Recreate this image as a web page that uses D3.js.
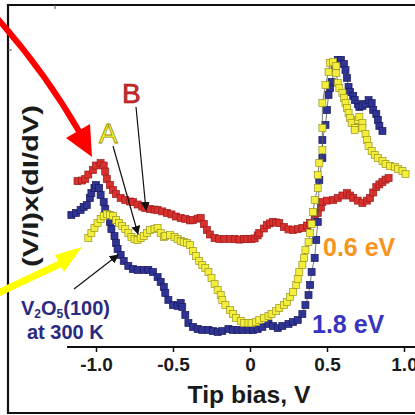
<!DOCTYPE html>
<html>
<head>
<meta charset="utf-8">
<script src="https://cdn.jsdelivr.net/npm/d3@7"></script>
<style>
  html, body { margin: 0; padding: 0; background: #fff; }
  text { font-family: Arial, "Liberation Sans", sans-serif; }
</style>
</head>
<body>
<div class="canvas"></div>
<script>
// tip bias (V) vs normalized conductance (arb. units), [bias, value]
const curveB = [
  [-1.12, 5.53], [-1.09, 5.55], [-1.07, 5.6], [-1.05, 5.75], [-1.02, 5.9], [-1.0, 6.05],
  [-0.97, 6.13], [-0.95, 6.05], [-0.94, 5.85], [-0.93, 5.6], [-0.91, 5.4], [-0.89, 5.23],
  [-0.87, 5.1], [-0.84, 4.97], [-0.81, 4.9], [-0.78, 4.85], [-0.76, 4.83], [-0.73, 4.75],
  [-0.7, 4.68], [-0.68, 4.63], [-0.65, 4.6], [-0.62, 4.58], [-0.6, 4.57], [-0.57, 4.52],
  [-0.54, 4.47], [-0.51, 4.42], [-0.48, 4.35], [-0.45, 4.3], [-0.42, 4.27], [-0.39, 4.22],
  [-0.37, 4.23], [-0.34, 4.28], [-0.32, 4.3], [-0.3, 4.1], [-0.28, 3.9], [-0.26, 3.75],
  [-0.23, 3.63], [-0.2, 3.6], [-0.17, 3.6], [-0.13, 3.6], [-0.1, 3.6], [-0.07, 3.58],
  [-0.04, 3.6], [-0.02, 3.6], [0.01, 3.6], [0.03, 3.62], [0.05, 3.72], [0.06, 3.8],
  [0.09, 3.95], [0.11, 4.07], [0.13, 4.12], [0.15, 4.17], [0.17, 4.15], [0.19, 4.13],
  [0.22, 4.0], [0.25, 3.92], [0.28, 3.9], [0.31, 3.93], [0.34, 3.97], [0.37, 4.05],
  [0.39, 4.13], [0.42, 4.3], [0.44, 4.47], [0.46, 4.65], [0.47, 4.83], [0.5, 4.88],
  [0.54, 4.9], [0.57, 4.97], [0.6, 5.05], [0.63, 5.13], [0.65, 5.05], [0.67, 4.97],
  [0.7, 4.88], [0.73, 4.8], [0.76, 4.88], [0.78, 4.97], [0.8, 5.15], [0.82, 5.33],
  [0.84, 5.42], [0.86, 5.5], [0.88, 5.58], [0.9, 5.63]
];

const curve300K = [
  [-1.16, 4.4], [-1.13, 4.47], [-1.1, 4.57], [-1.08, 4.67], [-1.06, 4.73], [-1.04, 4.97],
  [-1.03, 5.13], [-1.01, 5.3], [-1.0, 5.4], [-0.98, 5.3], [-0.97, 5.07], [-0.95, 4.83],
  [-0.94, 4.6], [-0.92, 4.4], [-0.91, 4.17], [-0.9, 3.93], [-0.88, 3.7], [-0.87, 3.47],
  [-0.86, 3.27], [-0.84, 3.07], [-0.82, 2.87], [-0.79, 2.7], [-0.76, 2.6], [-0.73, 2.57],
  [-0.69, 2.57], [-0.66, 2.57], [-0.63, 2.5], [-0.6, 2.33], [-0.58, 2.17], [-0.56, 2.0],
  [-0.55, 1.8], [-0.53, 1.57], [-0.5, 1.4], [-0.47, 1.37], [-0.45, 1.47], [-0.44, 1.33],
  [-0.42, 1.07], [-0.4, 0.8], [-0.37, 0.67], [-0.34, 0.6], [-0.31, 0.57], [-0.27, 0.57],
  [-0.24, 0.53], [-0.21, 0.5], [-0.18, 0.53], [-0.14, 0.6], [-0.11, 0.57], [-0.08, 0.57],
  [-0.05, 0.57], [-0.01, 0.57], [0.02, 0.57], [0.05, 0.6], [0.08, 0.67], [0.12, 0.77],
  [0.15, 0.7], [0.18, 0.63], [0.21, 0.7], [0.25, 0.77], [0.28, 0.83], [0.31, 0.9],
  [0.34, 1.1], [0.36, 1.4], [0.38, 1.73], [0.39, 2.07], [0.4, 2.5], [0.42, 2.97],
  [0.43, 3.57], [0.44, 4.17], [0.45, 5.57], [0.47, 6.3], [0.47, 6.9], [0.49, 7.4],
  [0.5, 7.9], [0.51, 8.4], [0.52, 8.63], [0.53, 8.83], [0.55, 9.3], [0.57, 9.57],
  [0.59, 9.57], [0.61, 9.43], [0.62, 9.23], [0.63, 8.97], [0.64, 8.67], [0.65, 8.5],
  [0.67, 8.37], [0.68, 8.23], [0.7, 8.1], [0.71, 8.0], [0.73, 8.03], [0.75, 8.1],
  [0.77, 8.23], [0.79, 8.13], [0.8, 7.9], [0.82, 7.77], [0.83, 7.57], [0.84, 7.37],
  [0.86, 7.2]
];

const curveA = [
  [-1.05, 3.63], [-1.03, 3.8], [-1.01, 3.97], [-0.99, 4.13], [-0.97, 4.27], [-0.95, 4.37],
  [-0.93, 4.43], [-0.91, 4.4], [-0.89, 4.37], [-0.87, 4.23], [-0.85, 4.13], [-0.83, 4.03],
  [-0.81, 3.93], [-0.79, 3.8], [-0.77, 3.67], [-0.75, 3.6], [-0.73, 3.57], [-0.71, 3.63],
  [-0.69, 3.7], [-0.67, 3.8], [-0.65, 3.9], [-0.62, 3.93], [-0.6, 3.97], [-0.58, 3.8],
  [-0.56, 3.67], [-0.55, 3.7], [-0.52, 3.73], [-0.49, 3.67], [-0.47, 3.6], [-0.45, 3.53],
  [-0.43, 3.5], [-0.41, 3.47], [-0.39, 3.4], [-0.37, 3.2], [-0.35, 3.03], [-0.33, 2.87],
  [-0.31, 2.73], [-0.29, 2.63], [-0.27, 2.5], [-0.25, 2.3], [-0.23, 2.1], [-0.21, 1.9],
  [-0.19, 1.73], [-0.18, 1.57], [-0.16, 1.4], [-0.13, 1.23], [-0.11, 1.1], [-0.09, 0.97],
  [-0.06, 0.87], [-0.04, 0.8], [-0.01, 0.8], [0.01, 0.8], [0.04, 0.83], [0.06, 0.9],
  [0.09, 0.97], [0.12, 1.03], [0.14, 1.1], [0.17, 1.2], [0.19, 1.3], [0.22, 1.4],
  [0.24, 1.5], [0.26, 1.67], [0.28, 1.83], [0.3, 2.07], [0.31, 2.27], [0.32, 2.5],
  [0.34, 2.73], [0.35, 2.97], [0.36, 3.23], [0.38, 3.5], [0.39, 3.8], [0.4, 4.1],
  [0.41, 4.5], [0.42, 4.9], [0.44, 5.3], [0.44, 5.73], [0.45, 6.13], [0.47, 6.57],
  [0.47, 7.3], [0.47, 8.13], [0.49, 8.73], [0.51, 9.17], [0.52, 9.47], [0.54, 9.5],
  [0.56, 9.37], [0.56, 9.13], [0.57, 8.8], [0.58, 8.63], [0.6, 8.47], [0.61, 8.3],
  [0.62, 8.13], [0.63, 7.97], [0.64, 7.8], [0.65, 7.63], [0.66, 7.47], [0.68, 7.3],
  [0.68, 7.23], [0.7, 7.57], [0.71, 7.67], [0.73, 7.47], [0.73, 7.3], [0.75, 7.1],
  [0.76, 6.9], [0.77, 6.7], [0.79, 6.53], [0.81, 6.4], [0.83, 6.3], [0.86, 6.2],
  [0.88, 6.1], [0.91, 6.03], [0.94, 6.0], [0.96, 5.93], [0.99, 5.87], [1.01, 5.77]
];

const xTicks = [-1.0, -0.5, 0, 0.5, 1.0];
const xTickLabels = ['-1.0', '-0.5', '0', '0.5', '1.0'];

// set up dimensions
const width = 415;
const height = 415;
const axisY = 347;

const svg = d3
  .select('.canvas')
  .append('svg')
  .attr('width', width)
  .attr('height', height);

svg.append('rect').attr('width', width).attr('height', height).attr('fill', '#fff');

// scales
const x = d3.scaleLinear().domain([-1, 1]).range([96, 404]);
const y = d3.scaleLinear().domain([0, 10]).range([axisY, 47]);

// outer frame (right side runs off the page)
svg.append('path')
  .attr('d', 'M 430 5 H 8 V 413 H 430')
  .attr('fill', 'none')
  .attr('stroke', '#111')
  .attr('stroke-width', 2.2);
svg.append('line').attr('x1', 55).attr('x2', 55).attr('y1', 5).attr('y2', 9)
  .attr('stroke', '#555').attr('stroke-width', 1);
svg.append('line').attr('x1', 8).attr('x2', 12).attr('y1', 50).attr('y2', 50)
  .attr('stroke', '#555').attr('stroke-width', 1);

// x axis
const xAxisGroup = svg.append('g')
  .attr('transform', `translate(0, ${axisY})`);
const xAxis = d3.axisBottom(x)
  .tickValues(xTicks)
  .tickFormat((d, i) => xTickLabels[i])
  .tickSize(5)
  .tickPadding(6)
  .tickSizeOuter(0);
xAxisGroup.call(xAxis);
xAxisGroup.select('.domain')
  .attr('d', 'M 67 0 H 430')
  .attr('stroke', '#111')
  .attr('stroke-width', 2.2);
xAxisGroup.selectAll('.tick line').attr('stroke', '#111').attr('stroke-width', 1.5);
xAxisGroup.selectAll('.tick text')
  .attr('font-size', 19)
  .attr('font-weight', 'bold')
  .attr('fill', '#1a1a1a')
  .attr('font-family', 'Arial, "Liberation Sans", sans-serif');

svg.append('text')
  .attr('x', 249)
  .attr('y', 403)
  .attr('text-anchor', 'middle')
  .attr('font-size', 24)
  .attr('font-weight', 'bold')
  .attr('fill', '#1a1a1a')
  .attr('textLength', 123)
  .attr('lengthAdjust', 'spacingAndGlyphs')
  .text('Tip bias, V');

svg.append('text')
  .attr('transform', 'translate(38, 186) rotate(-90)')
  .attr('text-anchor', 'middle')
  .attr('font-size', 22)
  .attr('font-weight', 'bold')
  .attr('fill', '#1a1a1a')
  .attr('textLength', 162)
  .attr('lengthAdjust', 'spacingAndGlyphs')
  .text('(V/I)x(dI/dV)');

// spectra: thin connecting line plus square markers
const line = d3.line()
  .x(d => x(d[0]))
  .y(d => y(d[1]));

const series = [
  { data: curveB, fill: '#d8302c', edge: '#9c1c1c' },
  { data: curve300K, fill: '#2f3394', edge: '#1a1a5c' },
  { data: curveA, fill: '#f2ee3a', edge: '#9a9420' }
];

const size = 7;
series.forEach(s => {
  svg.append('path')
    .datum(s.data)
    .attr('fill', 'none')
    .attr('stroke', '#555')
    .attr('stroke-width', 0.8)
    .attr('d', line);

  svg.append('g')
    .selectAll('rect')
    .data(s.data)
    .enter()
    .append('rect')
    .attr('x', d => x(d[0]) - size / 2)
    .attr('y', d => y(d[1]) - size / 2)
    .attr('width', size)
    .attr('height', size)
    .attr('fill', s.fill)
    .attr('stroke', s.edge)
    .attr('stroke-width', 0.7);
});

// big red curved arrow
svg.append('path')
  .attr('d', 'M -4 17 Q 45 72 80 133')
  .attr('fill', 'none')
  .attr('stroke', '#ff0000')
  .attr('stroke-width', 6);
svg.append('polygon')
  .attr('points', '66,138 90,124 92,157')
  .attr('fill', '#ff0000');

// yellow arrow
svg.append('line')
  .attr('x1', -4).attr('y1', 294)
  .attr('x2', 64).attr('y2', 262)
  .attr('stroke', '#ffff00')
  .attr('stroke-width', 7);
svg.append('polygon')
  .attr('points', '55,255 82,247 64,272')
  .attr('fill', '#ffff00');

// thin black pointer arrows
svg.append('defs').append('marker')
  .attr('id', 'tip')
  .attr('viewBox', '0 0 10 10')
  .attr('refX', 9)
  .attr('refY', 5)
  .attr('markerWidth', 9)
  .attr('markerHeight', 9)
  .attr('markerUnits', 'userSpaceOnUse')
  .attr('orient', 'auto')
  .append('path')
  .attr('d', 'M 0 0 L 10 5 L 0 10 z')
  .attr('fill', '#111');

const pointers = [
  [136, 107, 146, 210],
  [113, 146, 138, 234],
  [74, 289, 118, 255]
];
svg.append('g')
  .selectAll('line')
  .data(pointers)
  .enter()
  .append('line')
  .attr('x1', d => d[0]).attr('y1', d => d[1])
  .attr('x2', d => d[2]).attr('y2', d => d[3])
  .attr('stroke', '#111')
  .attr('stroke-width', 1.2)
  .attr('marker-end', 'url(#tip)');

// curve letters
svg.append('text')
  .attr('x', 122).attr('y', 103)
  .attr('font-size', 28)
  .attr('fill', '#d8282a')
  .attr('stroke', '#8c1a1a')
  .attr('stroke-width', 0.7)
  .text('B');
svg.append('text')
  .attr('x', 99).attr('y', 143)
  .attr('font-size', 28)
  .attr('fill', '#ffff20')
  .attr('stroke', '#8f8a10')
  .attr('stroke-width', 0.8)
  .text('A');

// gap labels
svg.append('text')
  .attr('x', 323).attr('y', 256)
  .attr('font-size', 25)
  .attr('font-weight', 'bold')
  .attr('fill', '#f7941d')
  .text('0.6 eV');
svg.append('text')
  .attr('x', 312).attr('y', 333)
  .attr('font-size', 25)
  .attr('font-weight', 'bold')
  .attr('fill', '#3535c0')
  .text('1.8 eV');

// sample label
const sample = svg.append('text')
  .attr('x', 21).attr('y', 315)
  .attr('font-size', 20)
  .attr('font-weight', 'bold')
  .attr('fill', '#2a2a80');
sample.append('tspan').text('V');
sample.append('tspan').attr('font-size', 12).attr('dy', 3).text('2');
sample.append('tspan').attr('dy', -3).text('O');
sample.append('tspan').attr('font-size', 12).attr('dy', 3).text('5');
sample.append('tspan').attr('dy', -3).text('(100)');

svg.append('text')
  .attr('x', 27).attr('y', 339)
  .attr('font-size', 20)
  .attr('font-weight', 'bold')
  .attr('fill', '#2a2a80')
  .text('at 300 K');
</script>
</body>
</html>
